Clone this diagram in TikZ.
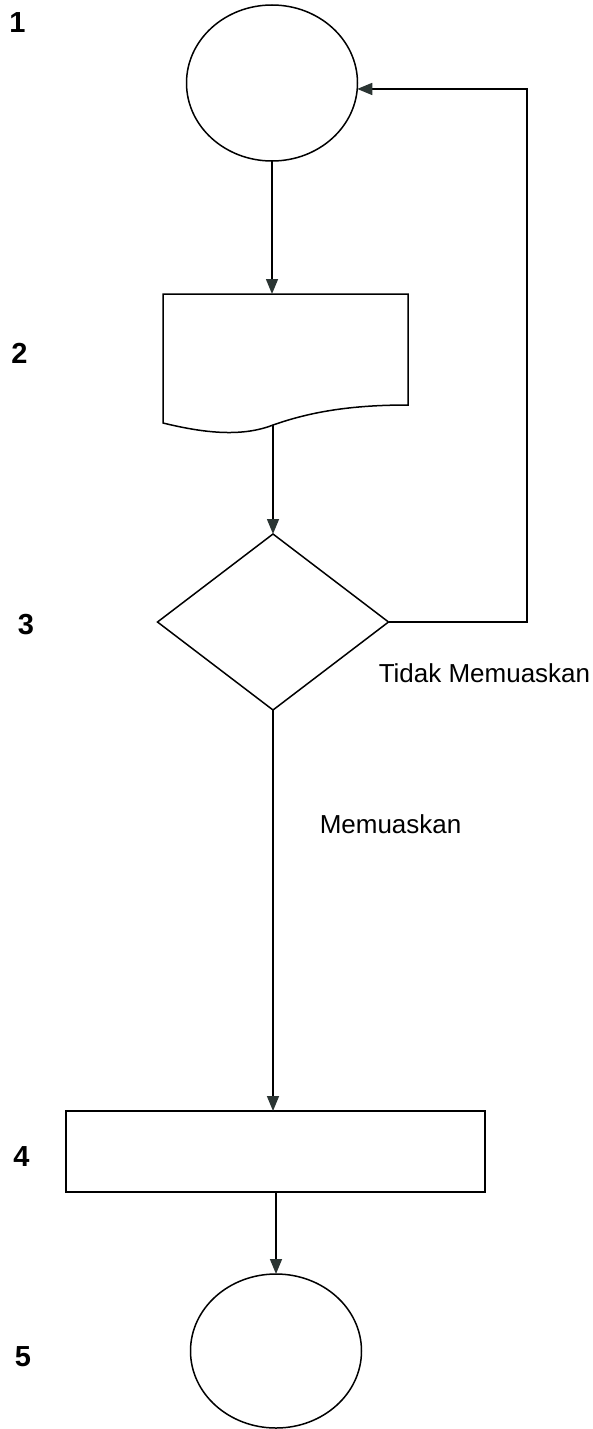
\documentclass[tikz,border=0pt]{standalone}
\usepackage{fontspec}
\setmainfont{Liberation Sans}
\usetikzlibrary{shapes.geometric,arrows.meta}
\definecolor{tipcol}{HTML}{2B3533}
\begin{document}
\begin{tikzpicture}[x=1pt,y=-1pt,line width=1.5pt,
  shapebox/.style={draw,line width=1.5pt,inner sep=0pt,outer sep=0pt},
  arr/.style={-{Triangle[length=15pt,width=12pt,fill=tipcol,color=tipcol]}},
  num/.style={font=\bfseries\fontsize{29}{29}\selectfont,inner sep=0pt},
  lbl/.style={font=\fontsize{26}{26}\selectfont,inner sep=0pt,anchor=base west}]
\useasboundingbox (0,0) rectangle (592,1429);
% shapes
\node[shapebox,ellipse,minimum width=171pt,minimum height=156pt] (c1) at (272,83) {};
\node[inner sep=0pt,outer sep=0pt,minimum width=245pt,minimum height=129pt] (doc) at (285.5,358.5) {};
\draw (163,294) -- (408,294) -- (408,405)
  .. controls (350,405) and (310,412) .. (273,425)
  .. controls (240,438) and (200,432) .. (163,423) -- cycle;
\coordinate (w) at (273,425);
\node[shapebox,diamond,minimum width=231pt,minimum height=176pt] (d) at (273,622) {};
\node[shapebox,rectangle,minimum width=419pt,minimum height=81pt] (b4) at (275.5,1151.5) {};
\node[shapebox,ellipse,minimum width=171pt,minimum height=154pt] (c5) at (276,1351) {};
\coordinate (k) at (527,0);
% connectors
\draw[arr] (c1.south) -- (c1.south |- doc.north);
\draw[arr] (w) -- (d.north);
\draw[arr] (d.south) -- (d.south |- b4.north);
\draw[arr] (b4.south -| c5.north) -- (c5.north);
\draw[arr] (d.east) -- (d.east -| k) -- (k |- c1.-4) -- (c1.-4);
% labels
\node[num] (n1) at (17.5,23) {1};
\node[num] (n2) at (19.5,353) {2};
\node[num] (n3) at (26,625) {3};
\node[num] (n4) at (21.5,1157) {4};
\node[num] (n5) at (23,1357) {5};
\node[lbl] (t1) at (378,682) {Tidak Memuaskan};
\node[lbl] (t2) at (319,833) {Memuaskan};
\end{tikzpicture}
\end{document}
